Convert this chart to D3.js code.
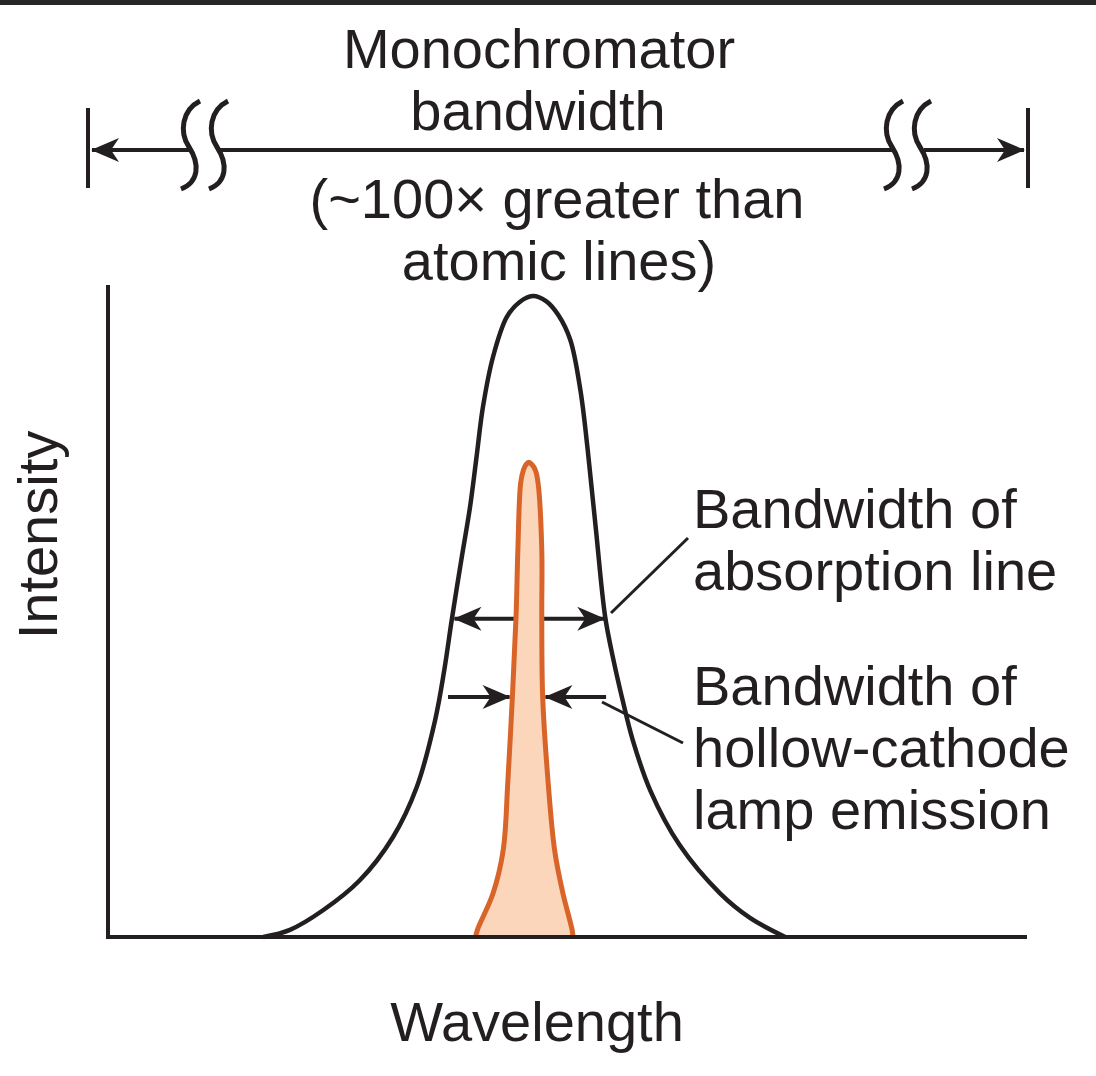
<!DOCTYPE html>
<html>
<head>
<meta charset="utf-8">
<script src="https://cdn.jsdelivr.net/npm/d3@7"></script>
<style>
  body { margin: 0; background: #fff; }
  text { font-family: "Liberation Sans", Arial, sans-serif; fill: #231f20; }
</style>
</head>
<body>
<script>
// absorption line (black) - wavelength / intensity
const absWave = [16.9, 19.8, 23.4, 27.4, 31.0, 33.6, 35.6, 36.6, 37.4, 38.5, 39.4, 40.1, 40.8, 41.9, 43.4, 44.8, 46.2,
                 47.7, 49.0, 50.3, 51.4, 52.2, 53.1, 54.1, 55.0, 56.0, 57.1, 59.0, 62.2, 66.6, 69.9, 73.7];
const absInt  = [0, 1.1, 4.1, 8.7, 15.3, 23.0, 33.3, 41.0, 48.6, 58.3, 66.0, 73.6, 81.3, 89.0, 95.1, 97.4, 98.3,
                 97.5, 95.4, 91.6, 83.9, 74.7, 62.4, 49.1, 42.5, 36.3, 30.2, 22.5, 14.1, 6.7, 2.9, 0];

// hollow-cathode lamp emission (orange)
const emWave = [40.0, 40.2, 41.9, 43.0, 43.5, 44.0, 44.4, 44.6, 44.9, 45.2, 45.5, 45.8, 46.1, 46.5, 46.8, 47.2, 47.2, 47.3, 47.9, 48.6, 49.5, 50.5, 50.6];
const emInt  = [0, 1.1, 6.7, 13.3, 23.6, 36.8, 49.1, 59.4, 69.6, 71.6, 72.5, 72.8, 72.5, 71.6, 69.6, 59.4, 49.1, 36.8, 23.6, 13.3, 6.7, 1.1, 0];

// bandwidth arrows: [level, from, to]
const absArrow = [48.8, 37.7, 54.0];
const emArrows = [[36.8, 37.0, 43.7], [36.8, 54.2, 47.6]];

const topLines = ["Monochromator", "bandwidth", "(~100\u00d7 greater than", "atomic lines)"];
const absLabel = ["Bandwidth of", "absorption line"];
const emLabel = ["Bandwidth of", "hollow-cathode", "lamp emission"];

const ink = "#231f20", orange = "#d9642a", peach = "#fcd6ba";

const svg = d3.select("body").append("svg")
    .attr("width", 1096).attr("height", 1076);

svg.append("rect").attr("x", 0).attr("y", 0).attr("width", 1096).attr("height", 5).attr("fill", "#262626");

const x = d3.scaleLinear().domain([0, 100]).range([108, 1027]);
const y = d3.scaleLinear().domain([0, 100]).range([937, 285]);

const defs = svg.append("defs");
defs.append("marker")
    .attr("id", "head").attr("viewBox", "-28 -13 30 26")
    .attr("refX", 0).attr("refY", 0)
    .attr("markerWidth", 30).attr("markerHeight", 26)
    .attr("markerUnits", "userSpaceOnUse").attr("orient", "auto")
  .append("path")
    .attr("d", "M1,0 L-27,-12 L-19,0 L-27,12 Z").attr("fill", ink);
defs.append("marker")
    .attr("id", "headStart").attr("viewBox", "-2 -13 30 26")
    .attr("refX", 0).attr("refY", 0)
    .attr("markerWidth", 30).attr("markerHeight", 26)
    .attr("markerUnits", "userSpaceOnUse").attr("orient", "auto")
  .append("path")
    .attr("d", "M-1,0 L27,-12 L19,0 L27,12 Z").attr("fill", ink);

// axes
svg.append("line").attr("x1", x(0)).attr("x2", x(0)).attr("y1", y(100)).attr("y2", y(0) + 2)
    .attr("stroke", ink).attr("stroke-width", 4);
svg.append("line").attr("x1", x(0) - 2).attr("x2", x(100)).attr("y1", y(0)).attr("y2", y(0))
    .attr("stroke", ink).attr("stroke-width", 4);

// absorption curve
const line = d3.line().x(d => x(d[0])).y(d => y(d[1])).curve(d3.curveCatmullRom.alpha(0.5));
svg.append("path")
    .attr("d", line(d3.zip(absWave, absInt)))
    .attr("fill", "none").attr("stroke", ink).attr("stroke-width", 4.5);

// arrows
svg.append("line")
    .attr("x1", x(absArrow[1])).attr("x2", x(absArrow[2]))
    .attr("y1", y(absArrow[0])).attr("y2", y(absArrow[0]))
    .attr("stroke", ink).attr("stroke-width", 4)
    .attr("marker-start", "url(#headStart)").attr("marker-end", "url(#head)");
emArrows.forEach(d => svg.append("line")
    .attr("x1", x(d[1])).attr("x2", x(d[2])).attr("y1", y(d[0])).attr("y2", y(d[0]))
    .attr("stroke", ink).attr("stroke-width", 4)
    .attr("marker-end", "url(#head)"));

// emission peak
const area = d3.area().x(d => x(d[0])).y0(y(0)).y1(d => y(d[1])).curve(d3.curveCatmullRom.alpha(0.5));
svg.append("path")
    .attr("d", area(d3.zip(emWave, emInt)))
    .attr("fill", peach);
svg.append("path")
    .attr("d", line(d3.zip(emWave, emInt)))
    .attr("fill", "none").attr("stroke", orange).attr("stroke-width", 5);
// redraw baseline over emission foot
svg.append("line").attr("x1", x(39)).attr("x2", x(52)).attr("y1", y(0)).attr("y2", y(0))
    .attr("stroke", ink).attr("stroke-width", 4);

// leader lines
svg.append("line").attr("x1", 611).attr("y1", 613).attr("x2", 688).attr("y2", 538)
    .attr("stroke", ink).attr("stroke-width", 3);
svg.append("line").attr("x1", 602).attr("y1", 702).attr("x2", 683).attr("y2", 743)
    .attr("stroke", ink).attr("stroke-width", 3);

// labels
const fs = 56;
absLabel.forEach((t, i) => svg.append("text").attr("x", 693).attr("y", 528 + i * 62)
    .attr("font-size", fs).text(t));
emLabel.forEach((t, i) => svg.append("text").attr("x", 693).attr("y", 705 + i * 62)
    .attr("font-size", fs).text(t));

const topX = [539, 538, 557, 559];
const topY = [68, 130, 218, 280];
topLines.forEach((t, i) => svg.append("text").attr("x", topX[i]).attr("y", topY[i])
    .attr("text-anchor", "middle").attr("font-size", fs).text(t));

svg.append("text").attr("x", 537).attr("y", 1041).attr("text-anchor", "middle")
    .attr("font-size", fs).text("Wavelength");
svg.append("text").attr("transform", "translate(57,535) rotate(-90)").attr("text-anchor", "middle")
    .attr("font-size", fs).text("Intensity");

// monochromator bracket
const by = 150;
const g = svg.append("g").attr("stroke", ink).attr("stroke-width", 4).attr("fill", "none");
g.append("line").attr("x1", 88).attr("x2", 88).attr("y1", 108).attr("y2", 188);
g.append("line").attr("x1", 1028).attr("x2", 1028).attr("y1", 108).attr("y2", 188);
g.append("line").attr("x1", 190).attr("x2", 92).attr("y1", by).attr("y2", by).attr("marker-end", "url(#head)");
g.append("line").attr("x1", 220).attr("x2", 893).attr("y1", by).attr("y2", by);
g.append("line").attr("x1", 924).attr("x2", 1024).attr("y1", by).attr("y2", by).attr("marker-end", "url(#head)");
function brk(cx) {
  g.append("path").attr("d",
    `M${cx + 9},${by - 49} C${cx - 9},${by - 40} ${cx - 12},${by - 18} ${cx - 2},${by - 3}
     C${cx + 9},${by + 14} ${cx + 8},${by + 32} ${cx - 10},${by + 39}`)
    .attr("stroke-width", 5);
}
[191, 219, 894, 922].forEach(brk);
</script>
</body>
</html>
